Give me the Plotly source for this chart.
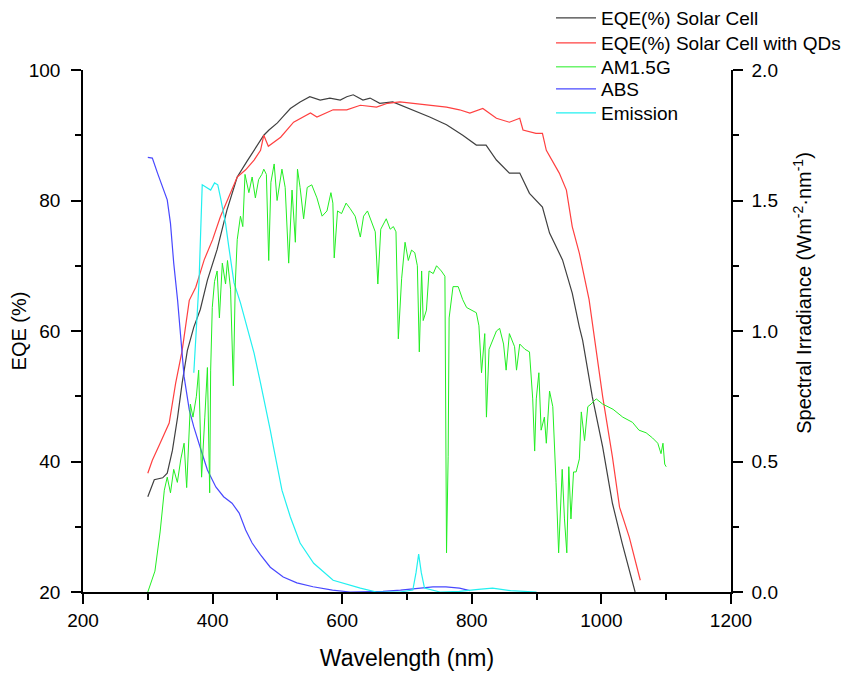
import plotly.graph_objects as go

# ---------------- data ----------------
wl_cell = [300, 310, 323, 330, 338, 346, 353, 361, 371, 381, 392, 407, 422, 438, 453, 469, 479, 487,
           500, 510, 520, 535, 550, 566, 581, 597, 607, 617, 632, 643, 658, 678, 690, 709, 735, 761,
           786, 807, 822, 838, 858, 874, 889, 909, 920, 940, 955, 966, 971, 986, 1002, 1017, 1032, 1052]
eqe_cell = [34.6, 37.2, 37.5, 38.2, 41.7, 46.8, 52.0, 57.0, 60.6, 63.3, 67.8, 72.5, 78.5, 83.6, 86.0,
            88.5, 90.0, 90.8, 91.9, 93.0, 94.1, 95.1, 95.9, 95.4, 95.7, 95.4, 95.9, 96.2, 95.4, 95.7,
            94.9, 95.1, 94.6, 93.9, 92.8, 91.6, 90.0, 88.5, 88.5, 86.2, 84.2, 84.2, 81.1, 79.0, 75.0,
            70.9, 65.8, 60.6, 58.6, 49.9, 42.2, 33.6, 27.5, 20.0]

wl_qd = [300, 307, 319, 333, 343, 353, 364, 374, 387, 400, 412, 425, 438, 451, 464, 474, 479, 486,
         505, 525, 551, 561, 586, 607, 628, 653, 670, 689, 709, 735, 761, 781, 797, 817, 838, 858,
         874, 879, 899, 909, 915, 935, 946, 955, 966, 981, 992, 1002, 1017, 1028, 1043, 1060]
eqe_qd = [38.2, 40.2, 42.8, 45.9, 52.0, 57.0, 64.7, 66.7, 70.9, 74.0, 77.5, 80.6, 83.6, 84.7, 86.2,
          87.7, 90.0, 88.3, 89.7, 92.0, 93.4, 92.8, 93.9, 93.9, 94.6, 94.3, 94.9, 95.1, 94.9, 94.6,
          94.3, 93.9, 93.4, 94.1, 92.6, 92.0, 92.6, 90.8, 90.3, 90.3, 87.7, 84.2, 81.6, 76.0, 71.9,
          64.8, 56.6, 49.9, 40.7, 33.0, 28.4, 21.8]

wl_am = [300, 311, 319, 325.5, 330, 335, 340, 345.6, 351, 356, 360, 365.7, 369.7, 375, 378.5, 383,
         388, 392, 395.5, 397, 399.5, 403, 407, 410.5, 415, 420, 423, 427.7, 432, 435, 438, 443,
         446.6, 450, 456, 461, 466, 471, 476, 479, 483, 486.6, 490, 495, 499.5, 503.5, 507, 512,
         517.4, 522.6, 527.7, 531, 535, 540.5, 546, 553, 561, 569, 576.5, 582.6, 585.6, 587.7,
         592.8, 599, 606, 612, 620, 628, 633, 639, 646, 651, 655, 659.5, 668, 674, 679, 683, 686.6,
         691.7, 697, 702, 707, 712, 716, 719, 722.6, 725, 730, 734, 740.5, 745.6, 753, 758.5, 761,
         763.5, 765, 771, 779, 786, 792, 799.5, 807, 811, 815, 820, 822.6, 826.6, 833, 838, 843,
         849, 853, 858, 866, 869, 874, 882, 889, 894, 897, 899.5, 903.5, 907, 912, 915, 920, 925,
         930, 934, 939.5, 943, 946.6, 949.7, 953, 957, 961, 966, 969, 974, 979, 984, 992, 1002,
         1018, 1033, 1048, 1058, 1069, 1079, 1087, 1092, 1095, 1097.7, 1100]
irr_am = [0.00, 0.08, 0.23, 0.39, 0.44, 0.38, 0.47, 0.42, 0.51, 0.57, 0.40, 0.72, 0.67, 0.75, 0.85,
          0.44, 0.67, 0.86, 0.38, 0.85, 1.09, 1.19, 1.23, 1.05, 1.26, 1.18, 1.27, 1.16, 0.79, 1.18,
          1.35, 1.44, 1.40, 1.60, 1.53, 1.59, 1.51, 1.58, 1.60, 1.62, 1.60, 1.27, 1.57, 1.64, 1.50,
          1.57, 1.62, 1.55, 1.26, 1.54, 1.34, 1.62, 1.55, 1.43, 1.55, 1.56, 1.51, 1.44, 1.46, 1.53,
          1.49, 1.28, 1.46, 1.45, 1.49, 1.47, 1.44, 1.36, 1.44, 1.46, 1.41, 1.38, 1.18, 1.39, 1.43,
          1.39, 1.40, 1.38, 0.97, 1.20, 1.34, 1.27, 1.31, 1.30, 1.25, 0.92, 1.23, 1.04, 1.08, 1.23,
          1.22, 1.25, 1.23, 1.21, 0.15, 0.52, 1.05, 1.17, 1.17, 1.12, 1.09, 1.08, 1.07, 1.02, 0.84,
          0.99, 0.67, 0.93, 0.97, 1.00, 1.01, 0.95, 0.85, 0.99, 0.94, 0.85, 0.95, 0.93, 0.92, 0.74,
          0.54, 0.74, 0.84, 0.62, 0.67, 0.57, 0.77, 0.71, 0.42, 0.15, 0.47, 0.28, 0.15, 0.48, 0.28,
          0.46, 0.46, 0.51, 0.69, 0.58, 0.71, 0.72, 0.74, 0.72, 0.70, 0.67, 0.65, 0.62, 0.61, 0.59,
          0.57, 0.53, 0.57, 0.49, 0.48]

wl_abs = [300, 307, 315, 323, 330, 335, 340, 346, 351, 356, 364, 371, 382, 392, 405, 417, 430, 441,
          451, 461, 474, 489, 509, 530, 555, 585, 612, 640, 663, 690, 715, 740, 760, 781, 797]
abs_v = [86.6, 86.5, 84.2, 81.9, 80.1, 76.5, 70.4, 64.7, 59.1, 53.0, 47.9, 45.3, 41.8, 38.7, 36.1,
         34.6, 33.6, 32.1, 29.5, 27.5, 25.7, 23.8, 22.3, 21.4, 20.8, 20.3, 20.0, 20.0, 20.1, 20.3,
         20.6, 20.8, 20.8, 20.6, 20.2]

wl_em = [371, 379, 384, 392, 397, 403, 408, 412, 420, 425, 433, 443, 453, 464, 474, 482, 489, 494,
         507, 520, 535, 556, 586, 628, 653, 689, 709, 714, 718, 722, 727, 751, 781, 810, 832, 860, 900]
em_v = [53.6, 67.4, 82.4, 81.9, 81.6, 82.7, 82.4, 80.5, 76.5, 72.9, 67.4, 64.3, 60.6, 56.6, 52.0,
        48.4, 44.8, 42.2, 35.6, 31.5, 27.5, 24.4, 21.8, 20.6, 20.0, 20.0, 20.3, 23.0, 25.8, 23.0,
        20.6, 20.0, 20.1, 20.4, 20.6, 20.2, 20.0]

x_ticks = [200, 400, 600, 800, 1000, 1200]
names = ["EQE(%) Solar Cell", "EQE(%) Solar Cell with QDs", "AM1.5G", "ABS", "Emission"]

# ---------------- figure ----------------
FONT = "Liberation Sans, Arial, sans-serif"
W, H = 857, 674
fig = go.Figure()
fig.add_trace(go.Scatter(x=wl_cell, y=eqe_cell, mode="lines", name=names[0], legend="legend",
                         line=dict(color="#404040", width=1.2)))
fig.add_trace(go.Scatter(x=wl_qd, y=eqe_qd, mode="lines", name=names[1], legend="legend2",
                         line=dict(color="#FF4040", width=1.2)))
fig.add_trace(go.Scatter(x=wl_am, y=irr_am, mode="lines", name=names[2], yaxis="y2", legend="legend3",
                         line=dict(color="#22EE22", width=1.0)))
fig.add_trace(go.Scatter(x=wl_abs, y=abs_v, mode="lines", name=names[3], legend="legend4",
                         line=dict(color="#4848FF", width=1.2)))
fig.add_trace(go.Scatter(x=wl_em, y=em_v, mode="lines", name=names[4], legend="legend5",
                         line=dict(color="#22F0F0", width=1.2)))

axis_common = dict(showline=True, linecolor="black", linewidth=1.5, showgrid=False, zeroline=False,
                   ticks="outside", ticklen=10, tickwidth=1.5, tickcolor="black",
                   tickfont=dict(family=FONT, size=19, color="black"))

def leg(center_px):
    return dict(xref="container", yref="container", x=543 / W, y=1 - center_px / H,
                xanchor="left", yanchor="middle", bgcolor="rgba(0,0,0,0)",
                font=dict(family=FONT, size=19, color="black"), itemwidth=40)

fig.update_layout(
    width=W, height=H, autosize=False,
    margin=dict(l=74.5, r=134, t=62, b=90, autoexpand=False),
    paper_bgcolor="white", plot_bgcolor="white",
    font=dict(family=FONT, color="black"),
    xaxis=dict(range=[200, 1200], tickvals=x_ticks,
               minor=dict(dtick=100, tick0=200, ticks="outside", ticklen=6, tickwidth=1.5, tickcolor="black"),
               title=dict(text="Wavelength (nm)", font=dict(family=FONT, size=23), standoff=20),
               **axis_common),
    yaxis=dict(range=[20, 100], tick0=20, dtick=20, ticklabelstandoff=7,
               minor=dict(dtick=10, tick0=20, ticks="outside", ticklen=6, tickwidth=1.5, tickcolor="black"),
               title=dict(text="EQE (%)", font=dict(family=FONT, size=20), standoff=3),
               **axis_common),
    yaxis2=dict(range=[0, 2], tick0=0, dtick=0.5, tickformat=".1f", overlaying="y", side="right",
                ticklabelstandoff=5,
                minor=dict(dtick=0.25, tick0=0, ticks="outside", ticklen=6, tickwidth=1.5, tickcolor="black"),
                **axis_common),
    annotations=[dict(text="Spectral Irradiance (Wm<sup>-2</sup>·nm<sup>-1</sup>)", textangle=-90,
                      xref="paper", yref="paper", x=1.111, y=0.573, showarrow=False,
                      xanchor="center", yanchor="middle", font=dict(family=FONT, size=20, color="black"))],
    legend=leg(10), legend2=leg(35), legend3=leg(59), legend4=leg(81), legend5=leg(105),
    showlegend=True,
)

fig.write_html("out.html")
